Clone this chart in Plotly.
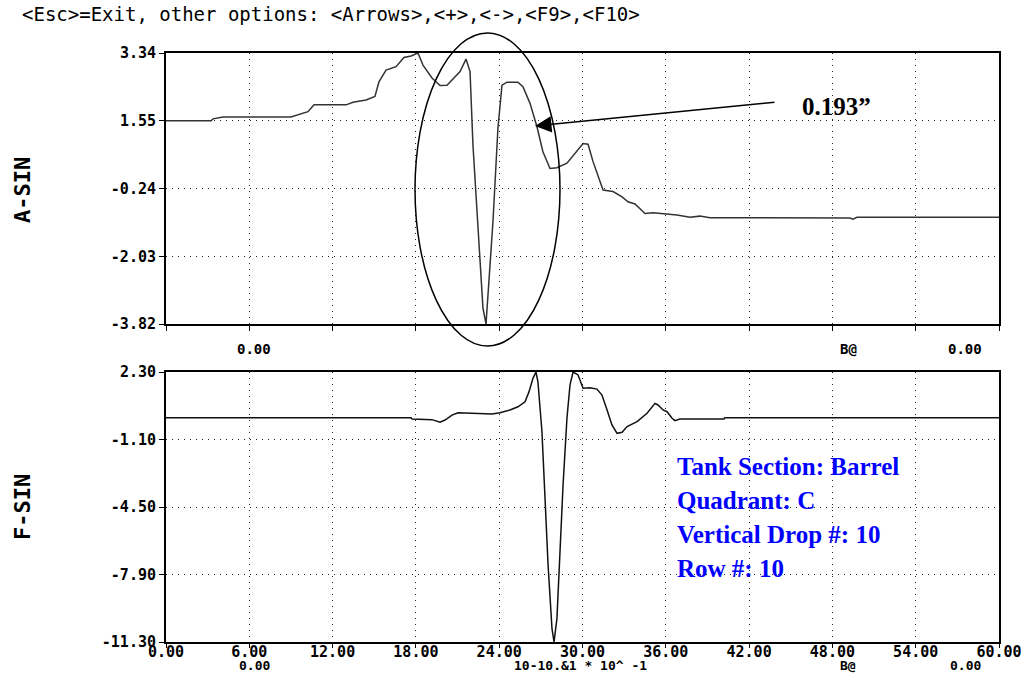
import plotly.graph_objects as go

# ==============================================================================
# DATA
# ==============================================================================
a_x = [0.00, 3.24, 3.39, 4.11, 9.00, 9.58, 10.23, 10.66, 12.97, 13.47, 14.41, 15.05,
       15.34, 15.85, 16.57, 17.14, 17.65, 18.15, 18.51, 19.16, 19.74, 20.24, 20.82,
       21.18, 21.61, 21.90, 22.11, 22.47, 22.83, 23.05, 23.19, 23.55, 23.91, 24.20,
       24.56, 25.35, 25.71, 26.22, 26.72, 27.15, 27.66, 28.16, 28.88, 29.46, 30.04,
       30.40, 30.76, 31.48, 32.20, 32.85, 33.28, 33.78, 34.50, 35.08, 35.80, 36.81,
       37.74, 38.46, 39.18, 42.79, 49.27, 49.48, 49.77, 60.00]
a_y = [1.55, 1.55, 1.60, 1.65, 1.65, 1.72, 1.79, 1.97, 1.97, 2.04, 2.10, 2.19,
       2.58, 2.89, 2.98, 3.22, 3.26, 3.34, 3.02, 2.68, 2.48, 2.49, 2.71,
       2.85, 3.18, 2.85, 0.91, -1.38, -3.40, -3.82, -3.13, -1.12, 1.36, 2.49,
       2.57, 2.57, 2.45, 2.01, 1.39, 0.73, 0.29, 0.31, 0.43, 0.69, 0.95,
       0.93, 0.47, -0.28, -0.32, -0.46, -0.59, -0.65, -0.90, -0.88, -0.90, -0.94,
       -1.00, -0.97, -1.01, -1.02, -1.02, -1.05, -1.00, -1.00]

f_x = [0.00, 17.65, 17.72, 19.16, 19.74, 20.10, 20.60, 21.03, 23.48, 24.06, 24.78,
       25.35, 25.86, 26.15, 26.43, 26.65, 26.79, 27.08, 27.30, 27.52, 27.80, 27.95,
       28.16, 28.38, 28.60, 28.88, 29.10, 29.32, 29.68, 30.04, 30.54, 31.04, 31.40,
       31.77, 32.12, 32.49, 32.85, 33.21, 33.93, 34.65, 35.22, 35.44, 35.80, 36.09,
       36.45, 36.66, 37.02, 40.19, 40.26, 60.00]
f_y = [0.00, 0.00, -0.07, -0.10, -0.23, -0.12, 0.13, 0.25, 0.18, 0.25, 0.39,
       0.55, 0.80, 1.31, 1.98, 2.30, 1.81, -0.71, -4.06, -7.42, -10.61, -11.30,
       -10.11, -6.75, -3.39, -0.03, 1.65, 2.30, 2.15, 1.48, 1.51, 1.44, 1.14,
       0.39, -0.37, -0.79, -0.74, -0.45, -0.20, 0.22, 0.72, 0.64, 0.39, 0.30,
       -0.03, -0.15, -0.07, -0.07, 0.00, 0.00]

x_ticks = [0, 6, 12, 18, 24, 30, 36, 42, 48, 54, 60]
x_ticktext = ["0.00", "6.00", "12.00", "18.00", "24.00", "30.00",
              "36.00", "42.00", "48.00", "54.00", "60.00"]
a_ticks = [3.34, 1.55, -0.24, -2.03, -3.82]
f_ticks = [2.30, -1.10, -4.50, -7.90, -11.30]

header = "&lt;Esc&gt;=Exit, other options: &lt;Arrows&gt;,&lt;+&gt;,&lt;-&gt;,&lt;F9&gt;,&lt;F10&gt;"
info_lines = ["Tank Section: Barrel", "Quadrant: C", "Vertical Drop #: 10", "Row #: 10"]

# ==============================================================================
# FIGURE
# ==============================================================================
W, H = 1024, 674
def px(x):
    return x / W
def py(y):
    return 1 - y / H

MONO = "DejaVu Sans Mono"
SERIF = "Liberation Serif"

fig = go.Figure()
fig.add_trace(go.Scatter(x=a_x, y=a_y, mode="lines", line=dict(color="#333", width=1.5),
                         xaxis="x", yaxis="y", showlegend=False))
fig.add_trace(go.Scatter(x=f_x, y=f_y, mode="lines", line=dict(color="#111", width=1.5),
                         xaxis="x2", yaxis="y2", showlegend=False))

tickfont = dict(family=MONO, size=15, color="black", weight="bold")
common_x = dict(range=[0, 60], tickvals=x_ticks, showgrid=True, gridcolor="#222",
                griddash="1px,5px", gridwidth=1, showline=True, linecolor="black",
                linewidth=2, mirror=True, ticks="outside", ticklen=5, tickcolor="black",
                zeroline=False, domain=[px(166), px(999)], automargin=False)
common_y = dict(showgrid=True, gridcolor="#222", griddash="1px,5px", gridwidth=1,
                showline=True, linecolor="black", linewidth=2, mirror=True,
                ticks="outside", ticklen=5, tickcolor="black", zeroline=False,
                tickfont=tickfont, automargin=False)

fig.update_layout(
    width=W, height=H, margin=dict(l=0, r=0, t=0, b=0, autoexpand=False),
    plot_bgcolor="white", paper_bgcolor="white",
    xaxis=dict(common_x, anchor="y", showticklabels=False),
    yaxis=dict(common_y, range=[-3.82, 3.34], tickvals=a_ticks,
               ticktext=[f"{v:.2f}" for v in a_ticks], domain=[py(324), py(53)], anchor="x"),
    xaxis2=dict(common_x, anchor="y2", ticktext=x_ticktext, tickfont=tickfont,
                ticklen=4, ticklabelstandoff=-9),
    yaxis2=dict(common_y, range=[-11.30, 2.30], tickvals=f_ticks,
                ticktext=[f"{v:.2f}" for v in f_ticks], domain=[py(642), py(372)], anchor="x2"),
)

# white box behind the info text (covers the grid)
fig.add_shape(type="rect", xref="paper", yref="paper", x0=px(656), x1=px(988),
              y0=py(607), y1=py(436), fillcolor="white", line=dict(width=0), layer="between")

# ellipse around the defect
fig.add_shape(type="circle", xref="paper", yref="paper", x0=px(415), x1=px(560),
              y0=py(346), y1=py(33), line=dict(color="black", width=1.5), layer="above")

ann = []
ann.append(dict(x=px(20), y=py(14), text=header, xanchor="left",
                font=dict(family=MONO, size=19, color="black")))
ann.append(dict(x=px(22), y=py(190), text="A-SIN", textangle=-90,
                font=dict(family=MONO, size=22, color="black", weight="bold")))
ann.append(dict(x=px(22), y=py(507), text="F-SIN", textangle=-90,
                font=dict(family=MONO, size=22, color="black", weight="bold")))

small = dict(family=MONO, size=14, color="black", weight="bold")
for xx, t in [(254, "0.00"), (848, "B@"), (965, "0.00")]:
    ann.append(dict(x=px(xx), y=py(349), text=t, font=small))
row2 = dict(family=MONO, size=13, color="black", weight="bold")
for xx, t in [(254, "0.00"), (580, "10-10.&amp;1 * 10^ -1"), (848, "B@"), (965, "0.00")]:
    ann.append(dict(x=px(xx), y=py(665), text=t, font=row2))

# arrow + measurement
ann.append(dict(x=px(535), y=py(126), ax=241, ay=-24, text="", showarrow=True,
                arrowhead=2, arrowsize=2.2, arrowwidth=1.5, arrowcolor="black"))
ann.append(dict(x=px(800), y=py(107), text="0.193\u201d", xanchor="left",
                font=dict(family=SERIF, size=25, color="black", weight="bold")))

for i, line in enumerate(info_lines):
    ann.append(dict(x=px(675), y=py(466 + 34 * i), text=line, xanchor="left",
                    font=dict(family=SERIF, size=25, color="#0000FF", weight="bold")))

for a in ann:
    a.setdefault("xref", "paper")
    a.setdefault("yref", "paper")
    a.setdefault("xanchor", "center")
    a.setdefault("yanchor", "middle")
    a.setdefault("showarrow", False)
    fig.add_annotation(**a)

# drop the default body margin so the figure sits at the window's corner
fig.write_html("out.html", config={"displayModeBar": False},
               post_script="document.body.style.margin='0px';")
